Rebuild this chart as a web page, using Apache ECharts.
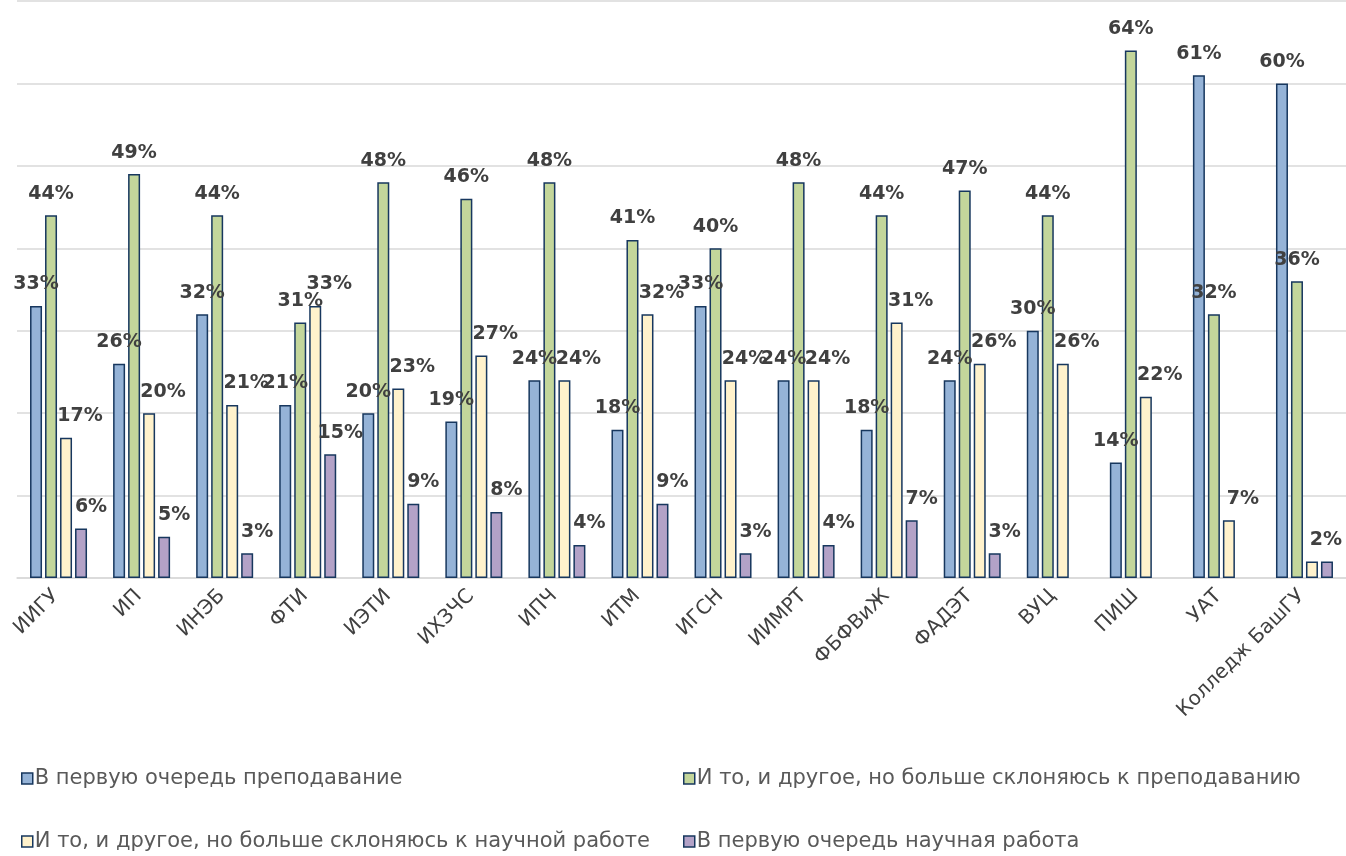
<!DOCTYPE html>
<html>
<head>
<meta charset="utf-8">
<script src="https://cdn.jsdelivr.net/npm/echarts@6/dist/echarts.min.js"></script>
<style>
  html, body { margin: 0; padding: 0; background: #fff; }
  #chartWrapper { width: 1346px; height: 856px; }
</style>
</head>
<body>
<div id="chartWrapper"></div>
<script>
// категории (институты)
let categories = ['ИИГУ', 'ИП', 'ИНЭБ', 'ФТИ', 'ИЭТИ', 'ИХЗЧС', 'ИПЧ', 'ИТМ', 'ИГСН', 'ИИМРТ',
    'ФБФВиЖ', 'ФАДЭТ', 'ВУЦ', 'ПИШ', 'УАТ', 'Колледж БашГУ'];

let seriesNames = [
    'В первую очередь преподавание',
    'И то, и другое, но больше склоняюсь к преподаванию',
    'И то, и другое, но больше склоняюсь к научной работе',
    'В первую очередь научная работа'
];

// значения, %
let teaching = [33, 26, 32, 21, 20, 19, 24, 18, 33, 24, 18, 24, 30, 14, 61, 60];
let moreTeaching = [44, 49, 44, 31, 48, 46, 48, 41, 40, 48, 44, 47, 44, 64, 32, 36];
let moreScience = [17, 20, 21, 33, 23, 27, 24, 32, 24, 24, 31, 26, 26, 22, 7, 2];
let science = [6, 5, 3, 15, 9, 8, 4, 9, 3, 4, 7, 3, null, null, null, 2];

let valueTicks = [0, 10, 20, 30, 40, 50, 60, 70];

function initChart() {
    let myChart = echarts.init(document.getElementById('chartWrapper'));

    let colors = ['#95B3D7', '#C3D69B', '#FFF2CC', '#B3A2C7'];
    let labelShift = [[0, -7], [0, -7], [14, -7], [10, -7]];
    let allData = [teaching, moreTeaching, moreScience, science];

    let seriesData = [];
    for (let i = 0; i < allData.length; i++) {
        seriesData.push({
            name: seriesNames[i],
            type: 'bar',
            barWidth: 12,
            barGap: '25%',
            itemStyle: {
                color: colors[i],
                borderColor: '#17375E',
                borderWidth: 1.5
            },
            label: {
                show: true,
                position: 'top',
                formatter: function (p) { return p.value == null ? '' : p.value + '%'; },
                fontFamily: 'DejaVu Sans',
                fontWeight: 'bold',
                fontSize: 19,
                color: '#404040'
            },
            // у колледжа две подписи "2%" накладываются — оставляем одну
            labelLayout: {
                dx: labelShift[i][0],
                dy: labelShift[i][1],
                hideOverlap: i >= 2
            },
            data: allData[i]
        });
    }

    let legendText = {
        fontFamily: 'DejaVu Sans',
        fontSize: 21,
        color: '#595959',
        padding: [0, 0, 0, -3]
    };

    let legendCommon = {
        orient: 'vertical',
        top: 763,
        height: 120,
        itemWidth: 11,
        itemHeight: 11,
        itemGap: 42,
        icon: 'rect',
        itemStyle: { borderColor: '#17375E', borderWidth: 1.5 },
        textStyle: legendText
    };

    let option = {
        animation: false,
        color: colors,
        grid: {
            left: 17,
            right: -5,
            top: 1,
            bottom: 278
        },
        legend: [
            Object.assign({ data: [seriesNames[0], seriesNames[2]], left: 16 }, legendCommon),
            Object.assign({ data: [seriesNames[1], seriesNames[3]], left: 678 }, legendCommon)
        ],
        xAxis: {
            type: 'category',
            data: categories,
            axisTick: { show: false },
            axisLine: { lineStyle: { color: '#D9D9D9', width: 1.5 } },
            axisLabel: {
                rotate: 45,
                interval: 0,
                margin: 12,
                padding: [0, 4, 0, 0],
                fontFamily: 'DejaVu Sans',
                fontSize: 20,
                color: '#404040'
            }
        },
        yAxis: {
            type: 'value',
            min: valueTicks[0],
            max: valueTicks[valueTicks.length - 1],
            interval: 10,
            axisLabel: { show: false },
            axisLine: { show: false },
            axisTick: { show: false },
            splitLine: { lineStyle: { color: '#D9D9D9', width: 1.5 } }
        },
        series: seriesData
    };

    myChart.setOption(option);
}

initChart();
</script>
</body>
</html>
